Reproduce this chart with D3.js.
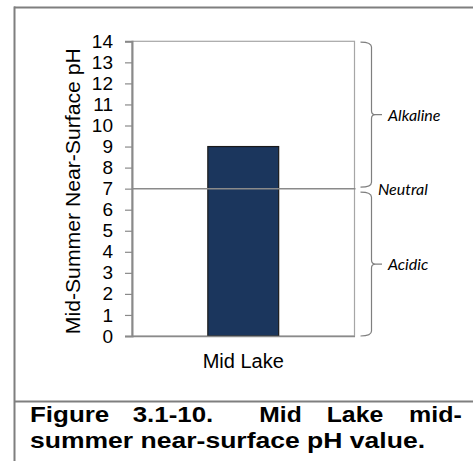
<!DOCTYPE html>
<html><head><meta charset="utf-8">
<script src="https://cdn.jsdelivr.net/npm/d3@7"></script>
<style>body{margin:0;background:#fff}svg{display:block}</style>
</head><body>
<script>
const categories = ["Mid Lake"];
const phValues = [9];
const yTicks = [0,1,2,3,4,5,6,7,8,9,10,11,12,13,14];
const neutralValue = 7;
const zones = [
  {label:"Alkaline", from:7, to:14},
  {label:"Acidic", from:0, to:7}
];
const yTitle = "Mid-Summer Near-Surface pH";
const captionLine1 = ["Figure", "3.1-10.", "Mid", "Lake", "mid-"];
const captionLine2 = "summer near-surface pH value.";

const W = 473, H = 461;
const svg = d3.select("body").append("svg").attr("width", W).attr("height", H);

const plot = {left:132, right:354.5, top:41.3, bottom:336};
const x = d3.scaleBand().domain(categories).range([plot.left, plot.right]).padding(0.517);
const y = d3.scaleLinear().domain([0,14]).range([plot.bottom, plot.top]);

// outer frame
const frame = "#7f7f7f";
svg.append("line").attr("x1",14.5).attr("x2",14.5).attr("y1",6.5).attr("y2",H).attr("stroke",frame).attr("stroke-width",2);
svg.append("line").attr("x1",14).attr("x2",W).attr("y1",7.5).attr("y2",7.5).attr("stroke",frame).attr("stroke-width",2);
svg.append("line").attr("x1",14).attr("x2",W).attr("y1",401.5).attr("y2",401.5).attr("stroke",frame).attr("stroke-width",2);

// plot border (top/right/bottom)
svg.append("rect").attr("x",plot.left).attr("y",y(14)).attr("width",plot.right-plot.left).attr("height",y(0)-y(14))
  .attr("fill","none").attr("stroke","#a6a6a6").attr("stroke-width",1.2);

// bar
svg.selectAll("rect.bar").data(categories).join("rect").attr("class","bar")
  .attr("x", d=>x(d)).attr("width", x.bandwidth())
  .attr("y", (d,i)=>y(phValues[i])).attr("height",(d,i)=>y(0)-y(phValues[i]))
  .attr("fill","#1b365d").attr("stroke","#1a1a1a").attr("stroke-width",1.2);

// neutral line
svg.append("line").attr("x1",plot.left).attr("x2",plot.right+1).attr("y1",y(neutralValue)).attr("y2",y(neutralValue))
  .attr("stroke","#8a8a8a").attr("stroke-width",1.5);

// y axis
const yAxis = svg.append("g").attr("transform",`translate(${plot.left},0)`)
  .call(d3.axisLeft(y).tickValues(yTicks).tickSize(7).tickPadding(12).tickFormat(d3.format("d")));
yAxis.select(".domain").attr("stroke","#8a8a8a").attr("stroke-width",2);
yAxis.selectAll(".tick line").attr("stroke","#8a8a8a").attr("stroke-width",1.2);
yAxis.selectAll(".tick text").attr("font-family","'Liberation Sans', Arial, sans-serif").attr("font-size",19).attr("fill","#000");

// x axis line
const xAxis = svg.append("g").attr("transform",`translate(0,${plot.bottom})`)
  .call(d3.axisBottom(x).tickSize(0).tickPadding(18));
xAxis.select(".domain").attr("stroke","#8a8a8a").attr("stroke-width",1.5);
xAxis.selectAll(".tick text").attr("font-family","'Liberation Sans', Arial, sans-serif").attr("font-size",20).attr("fill","#000");

// y title
svg.append("text").attr("transform",`translate(79.5,191.2) rotate(-90)`).attr("text-anchor","middle")
  .attr("font-family","'Liberation Sans', Arial, sans-serif").attr("font-size",19.5)
  .attr("textLength",286).attr("lengthAdjust","spacingAndGlyphs").text(yTitle);

// braces
const bx0 = 360.5, bx1 = 371.5, tip = 382;
function brace(yTop, yBot){
  const ym = (yTop+yBot)/2;
  return `M${bx0},${yTop} Q${bx1},${yTop} ${bx1},${yTop+5} L${bx1},${ym-4} Q${bx1},${ym} ${bx1+4},${ym} L${tip},${ym}`+
         `M${bx1+4},${ym} Q${bx1},${ym} ${bx1},${ym+4} L${bx1},${yBot-5} Q${bx1},${yBot} ${bx0},${yBot}`;
}
const zoneG = svg.append("g");
zones.forEach(z=>{
  const top = y(z.to) + (z.to===neutralValue?3.5:0.8);
  const bot = y(z.from) - (z.from===neutralValue?1.5:0);
  zoneG.append("path").attr("d",brace(top,bot)).attr("fill","none").attr("stroke","#7f7f7f").attr("stroke-width",1.2);
  zoneG.append("text").attr("x",388).attr("y",(top+bot)/2+6).attr("font-family","Lato, 'Open Sans', sans-serif")
    .attr("font-style","italic").attr("font-size",16).attr("fill","#000").text(z.label);
});
svg.append("text").attr("x",378).attr("y",y(neutralValue)+6.5).attr("font-family","Lato, 'Open Sans', sans-serif")
  .attr("font-style","italic").attr("font-size",16).attr("fill","#000").text("Neutral");

// caption
const capFont = "'Liberation Sans', Arial, sans-serif";
const line1X = [30, 132.7, 259.3, 326.7, 409];
const line1W = [79.3, 80.6, 42.4, 56.6, 52.7];
captionLine1.forEach((w,i)=>{
  svg.append("text").attr("x",line1X[i]).attr("y",422).attr("font-family",capFont).attr("font-weight","bold")
    .attr("font-size",22.5).attr("textLength",line1W[i]).attr("lengthAdjust","spacingAndGlyphs").text(w);
});
svg.append("text").attr("x",30).attr("y",448).attr("font-family",capFont).attr("font-weight","bold")
  .attr("font-size",22.5).attr("textLength",395).attr("lengthAdjust","spacingAndGlyphs").text(captionLine2);
</script>
</body></html>
